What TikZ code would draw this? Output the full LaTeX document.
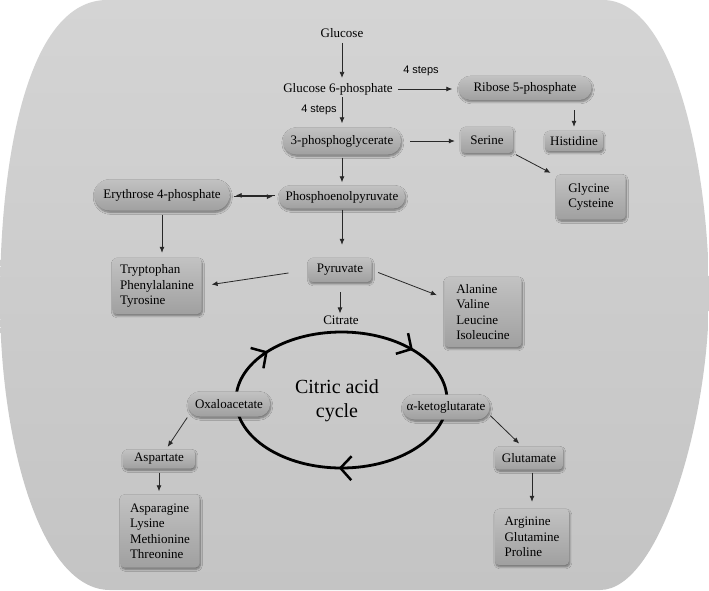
\documentclass[tikz,border=0pt]{standalone}
\usepackage{fontspec}
\setmainfont{Liberation Serif}
\newfontfamily\stepfont{Liberation Sans}
\usetikzlibrary{arrows.meta,shadows.blur,decorations.markings,calc}
\definecolor{boxtop}{RGB}{194,194,194}
\definecolor{boxbot}{RGB}{160,160,160}
\definecolor{bgtop}{RGB}{212,212,212}
\definecolor{bgbot}{RGB}{196,196,196}
\definecolor{arrcol}{RGB}{40,40,40}
\tikzset{
  every node/.style={font=\fontsize{13}{15.5}\selectfont, inner sep=1pt},
  arr/.style={draw=arrcol, line width=0.8pt, -{Latex[length=6pt,width=5pt]}},
  shadebox/.style={top color=boxtop, bottom color=boxbot,
    blur shadow={shadow xshift=0.8pt, shadow yshift=-1.8pt, shadow opacity=45,
      shadow blur radius=2pt, shadow blur steps=6}},
  pill/.style={shadebox, rounded corners=#1},
  boxx/.style={shadebox, rounded corners=4pt, align=left},
  stepslbl/.style={font=\stepfont\fontsize{11}{13}\selectfont},
  cyclelbl/.style={font=\fontsize{20}{24}\selectfont, align=center},
  cycleline/.style={line width=2.8pt, postaction={decorate},
    decoration={markings,
      mark=at position 0.255 with {\arrow{Straight Barb[length=11pt,width=24pt,line width=2.5pt]}},
      mark=at position 0.61 with {\arrow{Straight Barb[length=11pt,width=24pt,line width=2.5pt]}},
      mark=at position 0.885 with {\arrow{Straight Barb[length=11pt,width=24pt,line width=2.5pt]}}}},
}
\begin{document}
\begin{tikzpicture}[x=1pt,y=-1pt]
\useasboundingbox (0,0) rectangle (709,590);
% cell background
\path[top color=bgtop, bottom color=bgbot]
  (107,0) -- (603,0) .. controls (675,0) and (709,170) .. (709,295)
  .. controls (709,420) and (660,590) .. (600,590) -- (110,590)
  .. controls (40,590) and (0,440) .. (0,300)
  .. controls (0,150) and (30,0) .. (107,0) -- cycle;

% citric acid cycle (drawn first so that the pills lie on top of it)
\draw[cycleline] (341.5,400) ellipse [x radius=105.5, y radius=68];
\node[cyclelbl] (cyc) at (337,401) {Citric acid\\cycle};

% plain text nodes
\node (glc) at (342,33) {Glucose};
\node (g6p) at (338,89) {Glucose 6-phosphate};
\node[stepslbl] (st1) at (421,71) {4 steps};
\node[stepslbl] (st2) at (319,110) {4 steps};
\node (cit) at (341,320) {Citrate};

% pills
\node[pill=12pt, minimum width=133pt, minimum height=24pt] (rib) at (525,88) {Ribose 5-phosphate};
\node[pill=13pt, minimum width=118pt, minimum height=27pt] (tpg) at (342,141) {3-phosphoglycerate};
\node[pill=11pt, minimum width=126pt, minimum height=23pt] (pep) at (342,197) {Phosphoenolpyruvate};
\node[pill=15pt, minimum width=135pt, minimum height=31pt] (e4p) at (162,195) {Erythrose 4-phosphate};
\node[pill=12pt, minimum width=82pt, minimum height=25pt] (oxa) at (229,404) {Oxaloacetate};
\node[pill=12pt, minimum width=87pt, minimum height=25pt] (akg) at (446,407) {α-ketoglutarate};

% boxes
\node[boxx, minimum width=52pt, minimum height=26pt] (ser) at (487,140) {Serine};
\node[boxx, minimum width=58pt, minimum height=20pt] (his) at (574,141) {Histidine};
\node[boxx, minimum width=69pt, minimum height=45pt] (gly) at (591,197) {Glycine\\Cysteine};
\node[boxx, minimum width=89pt, minimum height=56pt] (trp) at (157,286) {Tryptophan\\Phenylalanine\\Tyrosine};
\node[boxx, minimum width=63pt, minimum height=24pt] (pyr) at (340,270) {Pyruvate};
\node[boxx, minimum width=77pt, minimum height=70pt] (ala) at (483,312) {Alanine\\Valine\\Leucine\\Isoleucine};
\node[boxx, minimum width=72pt, minimum height=19pt] (asp) at (159,459) {Aspartate};
\node[boxx, minimum width=79pt, minimum height=73pt] (aspn) at (160,531) {Asparagine\\Lysine\\Methionine\\Threonine};
\node[boxx, minimum width=68pt, minimum height=23pt] (glu) at (529,458) {Glutamate};
\node[boxx, minimum width=74pt, minimum height=56pt] (arg) at (532,537) {Arginine\\Glutamine\\Proline};

% connectors
\draw[arr, shorten <=4pt, shorten >=4pt] (glc.south) -- (glc.south |- g6p.north);
\draw[arr, shorten <=4pt, shorten >=6pt] (g6p.east) -- (g6p.east -| rib.west);
\draw[arr, shorten <=1pt, shorten >=4pt] (tpg.north |- g6p.south) -- (tpg.north);
\draw[arr, shorten <=9pt, shorten >=6pt] (tpg.east) -- (tpg.east -| ser.west);
\draw[arr, shorten <=10pt, shorten >=4pt] (his.north |- rib.south) -- (his.north);
\draw[arr, shorten <=3pt, shorten >=3pt] (ser.south east) -- ([xshift=-3pt]gly.north west);
\draw[arr, shorten <=3pt, shorten >=3pt] (tpg.south) -- (tpg.south |- pep.north);
\draw[arr, shorten <=4pt, shorten >=6pt] ([yshift=1.6pt]pep.west) -- ([yshift=1.6pt]pep.west -| e4p.east);
\draw[arr, shorten <=4pt, shorten >=6pt] ([yshift=-1.6pt]e4p.east) -- ([yshift=-1.6pt]e4p.east -| pep.west);
\draw[arr, shorten <=4pt, shorten >=5pt] (e4p.south) -- (e4p.south |- trp.north);
\draw[arr, shorten <=1pt, shorten >=13pt] (pep.south) -- (pep.south |- pyr.north);
\draw[arr, shorten <=20pt, shorten >=10pt] (pyr.west) -- (trp.east);
\draw[arr, shorten <=7pt, shorten >=8pt] (pyr.east) -- ([yshift=14pt]ala.west);
\draw[arr, shorten <=10pt, shorten >=1pt] (pyr.south) -- (pyr.south |- cit.north);
\draw[arr, shorten <=1pt, shorten >=3pt] (oxa.south west) -- ([xshift=7pt]asp.north);
\draw[arr, shorten <=4pt, shorten >=3pt] (asp.south) -- (asp.south |- aspn.north);
\draw[arr, shorten <=1pt, shorten >=4pt] ([yshift=-8pt]akg.east) -- ([xshift=-7pt]glu.north);
\draw[arr, shorten <=3pt, shorten >=7pt] (arg.north |- glu.south) -- (arg.north);
\end{tikzpicture}
\end{document}
